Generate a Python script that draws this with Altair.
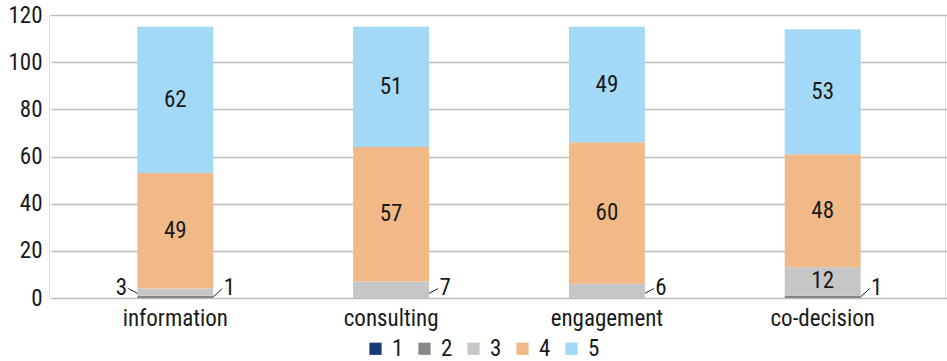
import altair as alt
import pandas as pd

categories = ["information", "consulting", "engagement", "co-decision"]
series_names = ["1", "2", "3", "4", "5"]
s1 = [0, 0, 0, 0]
s2 = [1, 0, 0, 1]
s3 = [3, 7, 6, 12]
s4 = [49, 57, 60, 48]
s5 = [62, 51, 49, 53]
y_ticks = [0, 20, 40, 60, 80, 100, 120]

colors = ["#173a78", "#878787", "#c6c6c6", "#f1b987", "#a3d9f6"]
FONT = "Roboto Condensed, Liberation Sans Narrow, DejaVu Sans Condensed, Roboto, sans-serif"
FS = 23

rows = []
for i, c in enumerate(categories):
    for s, vals in zip(series_names, [s1, s2, s3, s4, s5]):
        rows.append({"category": c, "series": s, "value": vals[i]})
df = pd.DataFrame(rows)
# side of outside labels: left for the first category's series 3
df["side"] = ["left" if (r.category == "information" and r.series == "3") else "right" for r in df.itertuples()]

W, H = 896, 283
xscale = alt.Scale(domain=categories, paddingInner=0.648, paddingOuter=0.4, range=[2, 898])
yscale = alt.Scale(domain=[0, 120])

base = alt.Chart(df).transform_stack(
    stack="value", groupby=["category"], sort=[{"field": "series", "order": "ascending"}], as_=["y0", "y1"]
).transform_calculate(mid="(datum.y0 + datum.y1) / 2")

bars = base.mark_bar().encode(
    x=alt.X("category:N", scale=xscale, sort=categories,
            axis=alt.Axis(title=None, domain=False, ticks=False, labelAngle=0, labelPadding=9,
                          labelFontSize=FS, labelFont=FONT, labelColor="#1a1a1a", grid=False)),
    y=alt.Y("y0:Q", scale=yscale,
            axis=alt.Axis(title=None, values=y_ticks, domain=False, ticks=False, labelPadding=7,
                          labelFontSize=FS, labelFont=FONT, labelColor="#1a1a1a",
                          grid=True, gridColor="#bdbdbd", gridWidth=1.6)),
    y2="y1:Q",
    color=alt.Color("series:N", scale=alt.Scale(domain=series_names, range=colors),
                    legend=alt.Legend(title=None, orient="none", direction="horizontal",
                                      legendX=315, legendY=322, symbolType="square", symbolSize=150,
                                      symbolStrokeWidth=0, labelFontSize=FS, labelFont=FONT,
                                      labelColor="#1a1a1a", columnPadding=9, labelOffset=5)),
    order=alt.Order("series:N", sort="ascending"),
)

inside = base.transform_filter("datum.value >= 10").mark_text(
    fontSize=FS, font=FONT, color="#1a1a1a", baseline="middle", align="center"
).encode(
    x=alt.X("category:N", scale=xscale, sort=categories),
    y=alt.Y("mid:Q", scale=yscale),
    text="value:Q",
)

small = base.transform_filter("datum.value > 0 && datum.value < 10").transform_calculate(
    bar_y="min(datum.mid, 2)", lab_y="4.3", line_end="4.0"
)

def outside(side):
    sgn = -1 if side == "left" else 1
    sub = small.transform_filter(f"datum.side == '{side}'")
    line = sub.mark_rule(color="#1a1a1a", strokeWidth=1, xOffset=sgn * 38, x2Offset=sgn * 47).encode(
        x=alt.X("category:N", scale=xscale, sort=categories),
        x2="category:N",
        y=alt.Y("bar_y:Q", scale=yscale),
        y2="line_end:Q",
    )
    txt = sub.mark_text(fontSize=FS, font=FONT, color="#1a1a1a", baseline="middle", align="center",
                        dx=sgn * 54).encode(
        x=alt.X("category:N", scale=xscale, sort=categories),
        y=alt.Y("lab_y:Q", scale=yscale),
        text="value:Q",
    )
    return line + txt

chart = alt.layer(bars, inside, outside("left"), outside("right")).properties(
    width=W, height=H, autosize=alt.AutoSizeParams(type="none"),
    padding={"left": 49, "top": 15, "right": 2, "bottom": 63},
).configure_view(stroke=None).configure(background="white")

chart.save("out.html", embed_options={"renderer": "svg", "actions": False})
